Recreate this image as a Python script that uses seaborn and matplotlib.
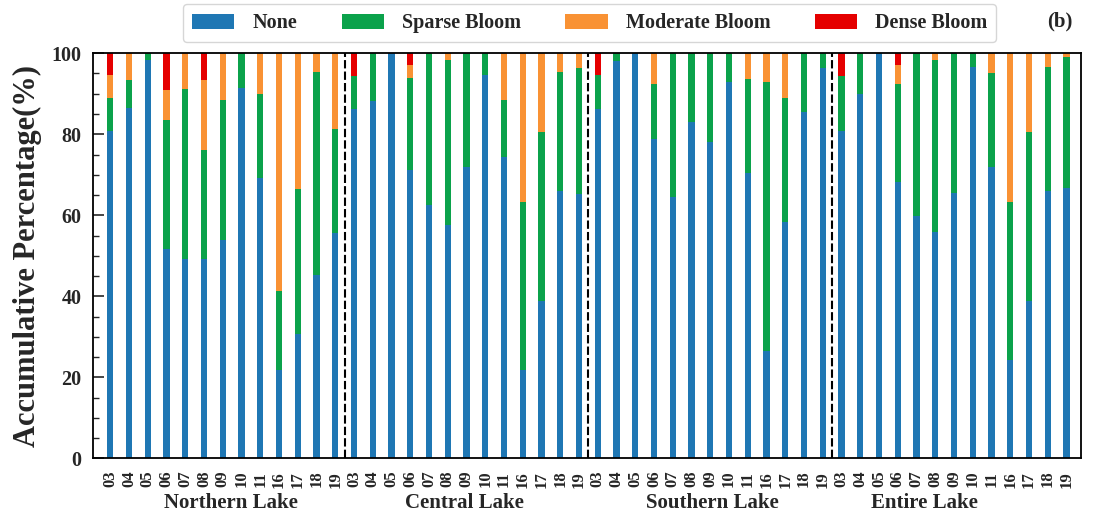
import numpy as np
import pandas as pd
import matplotlib
matplotlib.use('Agg')
import matplotlib.pyplot as plt
import matplotlib.transforms as mtransforms
from matplotlib.patches import Patch
from matplotlib.ticker import MultipleLocator
import seaborn as sns

sns.set_style('ticks')
plt.rcParams['font.family'] = ['Liberation Serif', 'DejaVu Serif']
plt.rcParams['font.weight'] = 'bold'

# ---------------- data (percent of lake area per bloom class) ----------------
months = ['03', '04', '05', '06', '07', '08', '09', '10', '11', '16', '17', '18', '19']
regions = ['Northern Lake', 'Central Lake', 'Southern Lake', 'Entire Lake']
classes = ['None', 'Sparse Bloom', 'Moderate Bloom', 'Dense Bloom']

north_none = [80.7, 86.6, 98.4, 51.6, 49.1, 49.1, 53.9, 91.5, 69.1, 21.8, 30.7, 45.2, 55.7]
north_sparse = [8.2, 6.7, 1.6, 31.8, 42.0, 27.0, 34.6, 8.5, 20.8, 19.6, 35.9, 50.1, 25.5]
north_moderate = [5.8, 6.7, 0.0, 7.5, 8.9, 17.2, 11.5, 0.0, 10.1, 58.6, 33.4, 4.7, 18.8]
north_dense = [5.3, 0.0, 0.0, 9.1, 0.0, 6.7, 0.0, 0.0, 0.0, 0.0, 0.0, 0.0, 0.0]

central_none = [86.3, 88.3, 100.0, 71.2, 62.6, 57.6, 71.8, 94.6, 74.5, 21.8, 38.9, 66.0, 65.2]
central_sparse = [8.2, 11.7, 0.0, 22.8, 37.4, 40.8, 28.2, 5.4, 14.0, 41.6, 41.6, 29.3, 31.1]
central_moderate = [0.0, 0.0, 0.0, 3.0, 0.0, 1.6, 0.0, 0.0, 11.5, 36.6, 19.5, 4.7, 3.7]
central_dense = [5.5, 0.0, 0.0, 3.0, 0.0, 0.0, 0.0, 0.0, 0.0, 0.0, 0.0, 0.0, 0.0]

south_none = [86.3, 98.2, 100.0, 78.8, 64.4, 83.1, 78.2, 93.0, 70.4, 26.6, 58.3, 85.6, 96.3]
south_sparse = [8.4, 1.8, 0.0, 13.6, 35.6, 16.9, 21.8, 7.0, 23.2, 66.2, 30.6, 14.4, 3.7]
south_moderate = [0.0, 0.0, 0.0, 7.6, 0.0, 0.0, 0.0, 0.0, 6.4, 7.2, 11.1, 0.0, 0.0]
south_dense = [5.3, 0.0, 0.0, 0.0, 0.0, 0.0, 0.0, 0.0, 0.0, 0.0, 0.0, 0.0, 0.0]

entire_none = [80.7, 89.9, 100.0, 68.3, 59.8, 55.8, 65.4, 96.5, 71.8, 24.3, 38.9, 66.1, 66.8]
entire_sparse = [13.8, 10.1, 0.0, 24.1, 40.2, 42.6, 34.6, 3.5, 23.3, 39.1, 41.6, 30.6, 32.2]
entire_moderate = [0.0, 0.0, 0.0, 4.6, 0.0, 1.6, 0.0, 0.0, 4.9, 36.6, 19.5, 3.3, 1.0]
entire_dense = [5.5, 0.0, 0.0, 3.0, 0.0, 0.0, 0.0, 0.0, 0.0, 0.0, 0.0, 0.0, 0.0]

colors = ['#1f77b4', '#0ba24b', '#f99234', '#e50000']

# ---------------- build table ----------------
parts = []
for reg, vals in zip(regions, [
        (north_none, north_sparse, north_moderate, north_dense),
        (central_none, central_sparse, central_moderate, central_dense),
        (south_none, south_sparse, south_moderate, south_dense),
        (entire_none, entire_sparse, entire_moderate, entire_dense)]):
    d = pd.DataFrame(dict(zip(classes, vals)))
    d['region'] = reg
    d['month'] = months
    parts.append(d)
df = pd.concat(parts, ignore_index=True)
df['pos'] = np.arange(len(df))

# cumulative levels for stacking (draw tallest first)
cum = df[classes].cumsum(axis=1)

fig = plt.figure(figsize=(10.96, 5.22), dpi=100)
ax = fig.add_axes([0.0846, 0.122, 0.9014, 0.776])

for i in range(len(classes) - 1, -1, -1):
    sns.barplot(x=df['pos'], y=cum[classes[i]], color=colors[i], width=0.33,
                saturation=1, errorbar=None, linewidth=0, ax=ax)

# separators between regions
for k in range(1, len(regions)):
    ax.axvline(k * len(months) - 0.5, color='black', lw=1.5, linestyle=(0, (4, 1.5)))

ax.set_xlim(-0.93, len(df) - 0.25)
ax.set_ylim(0, 100)
ax.yaxis.set_major_locator(MultipleLocator(20))
ax.yaxis.set_minor_locator(MultipleLocator(5))
ax.set_xticks(df['pos'])
ax.set_xticklabels(df['month'], rotation=90, fontsize=12, fontweight='bold')
ax.tick_params(axis='x', direction='in', length=6, width=1.2, pad=9)
ax.tick_params(axis='y', which='major', direction='in', length=8, width=1.2, pad=8, labelsize=14.5)
ax.tick_params(axis='y', which='minor', direction='in', length=4, width=1.0)
for lab in ax.get_yticklabels():
    lab.set_fontweight('bold')
for s in ax.spines.values():
    s.set_linewidth(1.3)
    s.set_color('black')

ax.set_xlabel('')
ax.set_ylabel('Accumulative Percentage(%)', fontsize=22, fontweight='bold', labelpad=7)

# region names under the month labels
trans = mtransforms.blended_transform_factory(ax.transData, fig.transFigure)
for name, xp in zip(regions, [6.45, 18.9, 32.1, 43.4]):
    ax.text(xp, 0.036, name, transform=trans, ha='center', va='center',
            fontsize=15, fontweight='bold')

handles = [Patch(facecolor=c, edgecolor='none', label=l) for c, l in zip(colors, classes)]
leg = fig.legend(handles=handles, loc='upper center', bbox_to_anchor=(0.538, 0.992), ncol=4,
                 frameon=True, fancybox=True, fontsize=14.5, handlelength=2.1, handleheight=0.8,
                 handletextpad=0.9, columnspacing=2.2, borderpad=0.45, borderaxespad=0)
for t in leg.get_texts():
    t.set_fontweight('bold')

fig.text(0.967, 0.958, '(b)', ha='center', va='center', fontsize=15, fontweight='bold')

fig.savefig('out.png', dpi=100)
